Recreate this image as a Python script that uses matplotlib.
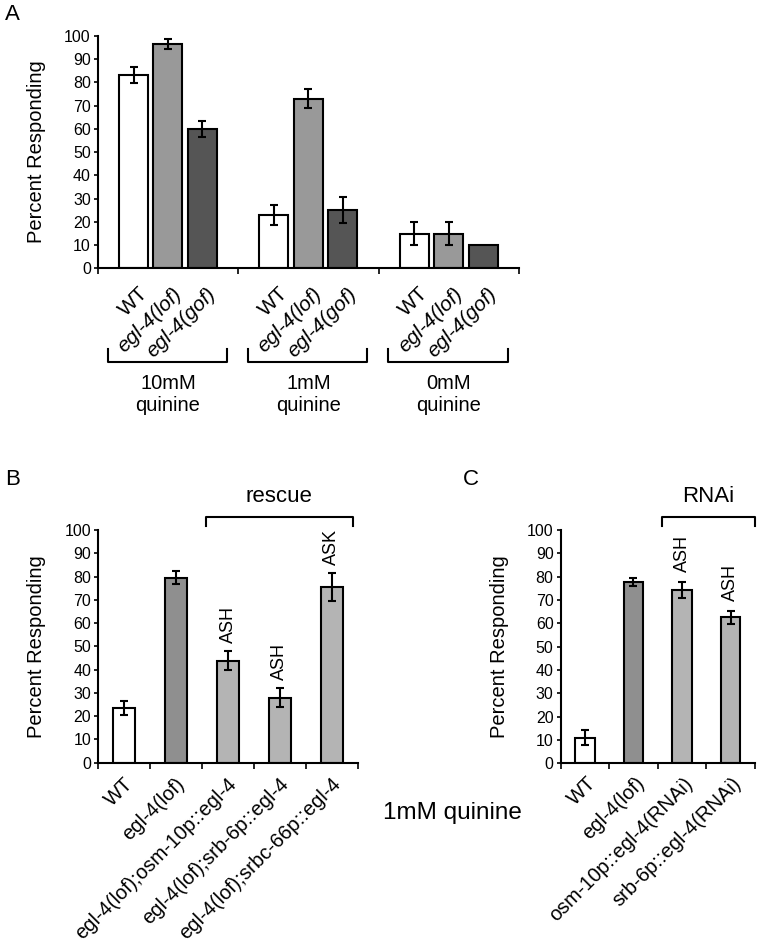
import matplotlib
matplotlib.use("Agg")
import matplotlib.pyplot as plt
import numpy as np
from matplotlib.transforms import blended_transform_factory

plt.rcParams['font.family'] = ['Liberation Sans', 'DejaVu Sans']

# ---- panel A data ----
groups_A = ['10mM\nquinine', '1mM\nquinine', '0mM\nquinine']
strains_A = ['WT', 'egl-4(lof)', 'egl-4(gof)']
vals_A = [[83, 96.5, 60], [23, 73, 25], [15, 15, 10]]
errs_A = [[3.5, 2, 3.5], [4.2, 4.2, 5.5], [5, 5, 0]]
colors_A = ['white', '#999999', '#555555']

# ---- panel B data ----
labels_B = ['WT', 'egl-4(lof)', 'egl-4(lof);osm-10p::egl-4',
            'egl-4(lof);srb-6p::egl-4', 'egl-4(lof);srbc-66p::egl-4']
vals_B = [23.5, 79.5, 43.8, 28, 75.7]
errs_B = [3, 2.7, 4, 4, 6]
colors_B = ['white', '#8f8f8f', '#b4b4b4', '#b4b4b4', '#b4b4b4']
notes_B = ['', '', 'ASH', 'ASH', 'ASK']

# ---- panel C data ----
labels_C = ['WT', 'egl-4(lof)', 'osm-10p::egl-4(RNAi)', 'srb-6p::egl-4(RNAi)']
vals_C = [11, 77.7, 74.2, 62.5]
errs_C = [3.2, 1.8, 3.3, 2.8]
colors_C = ['white', '#8f8f8f', '#b4b4b4', '#b4b4b4']
notes_C = ['', '', 'ASH', 'ASH']

W, H = 760, 946
fig = plt.figure(figsize=(W / 100, H / 100), dpi=100)


def px_axes(left, top, right, bottom):
    return fig.add_axes([left / W, 1 - bottom / H, (right - left) / W, (bottom - top) / H])


def style(ax, n, ylab_x):
    ax.set_ylim(0, 100)
    ax.set_xlim(0, n)
    ax.set_yticks(range(0, 101, 10))
    ax.set_xticks(range(0, n + 1))
    ax.set_xticklabels([])
    for s in ['top', 'right']:
        ax.spines[s].set_visible(False)
    for s in ['left', 'bottom']:
        ax.spines[s].set_linewidth(1.5)
    ax.tick_params(axis='y', direction='out', length=3, width=1.2, pad=2, labelsize=11.5)
    ax.tick_params(axis='x', direction='out', length=4, width=1.2)
    # y label placed by hand, centred on the axis height
    tr = blended_transform_factory(fig.transFigure, ax.transAxes)
    ax.text(ylab_x / W, 0.5, 'Percent Responding', transform=tr, rotation=90,
            ha='center', va='center', fontsize=14.5)


def bars(ax, x, v, e, c, w):
    ax.bar(x, v, width=w, color=c, edgecolor='black', linewidth=1.5, zorder=2)
    ee = np.array(e, dtype=float)
    m = ee > 0
    ax.errorbar(np.array(x)[m], np.array(v)[m], yerr=ee[m], fmt='none', ecolor='black',
                elinewidth=1.5, capsize=3, capthick=1.5, zorder=3)


def xlabels(ax, x, labels, dx, dy, fs=15, italic=False):
    tr = blended_transform_factory(ax.transData, ax.transAxes)
    for xi, lab in zip(x, labels):
        style_ = 'italic' if (italic and lab != 'WT') else 'normal'
        ax.annotate(lab, xy=(xi, 0), xycoords=tr, xytext=(dx, dy), textcoords='offset pixels',
                    rotation=45, rotation_mode='anchor', ha='right', va='center',
                    fontsize=fs, fontstyle=style_, annotation_clip=False)


def bracket(ax, x0, x1, yh, yt, text=None, ty=None, fs=16):
    tr = blended_transform_factory(ax.transData, ax.transAxes)
    ax.plot([x0, x0, x1, x1], [yt, yh, yh, yt], color='black', lw=1.5,
            transform=tr, clip_on=False)
    if text:
        ax.text((x0 + x1) / 2, ty, text, transform=tr, ha='center', va='center', fontsize=fs)


# ---- A ----
axA = px_axes(97.7, 35.7, 519, 268.5)
style(axA, 3, 36.7)
offs = [-0.245, 0, 0.245]
for gi in range(3):
    xs = [gi + 0.5 + o for o in offs]
    bars(axA, xs, vals_A[gi], errs_A[gi], colors_A, 0.207)
    xlabels(axA, xs, strains_A, 11, -22, italic=True)
    tr = blended_transform_factory(axA.transData, axA.transAxes)
    axA.plot([gi + 0.07, gi + 0.07, gi + 0.92, gi + 0.92], [-0.347, -0.40, -0.40, -0.347],
             color='black', lw=1.5, transform=tr, clip_on=False)
    axA.text(gi + 0.5, -0.452, groups_A[gi], transform=tr, ha='center', va='top',
             fontsize=14.5, linespacing=1.2)

# ---- B ----
axB = px_axes(98.3, 530, 357.7, 762.7)
style(axB, 5, 36.7)
xB = np.arange(5) + 0.5
bars(axB, xB, vals_B, errs_B, colors_B, 0.42)
xlabels(axB, xB, labels_B, 6, -18, fs=14.5)
for xi, v, e, n in zip(xB, vals_B, errs_B, notes_B):
    if n:
        axB.annotate(n, xy=(xi, v + e), xytext=(0, 8), textcoords='offset pixels',
                     rotation=90, ha='center', va='bottom', fontsize=13)
bracket(axB, 2.07, 4.91, 1.057, 1.017, 'rescue', 1.143)

# ---- C ----
axC = px_axes(560.5, 530, 755, 763.3)
style(axC, 4, 499.3)
xC = np.arange(4) + 0.5
bars(axC, xC, vals_C, errs_C, colors_C, 0.4)
xlabels(axC, xC, labels_C, 8, -17, fs=14.5)
for xi, v, e, n in zip(xC, vals_C, errs_C, notes_C):
    if n:
        axC.annotate(n, xy=(xi, v + e), xytext=(0, 10), textcoords='offset pixels',
                     rotation=90, ha='center', va='bottom', fontsize=13)
bracket(axC, 2.09, 3.99, 1.057, 1.017, 'RNAi', 1.143)

fig.text(452.5 / W, 1 - 813 / H, '1mM quinine', ha='center', va='center', fontsize=17.5)
fig.text(12.5 / W, 1 - 15 / H, 'A', ha='center', va='center', fontsize=16)
fig.text(12.5 / W, 1 - 479.5 / H, 'B', ha='center', va='center', fontsize=16)
fig.text(470.5 / W, 1 - 479.5 / H, 'C', ha='center', va='center', fontsize=16)

fig.savefig('out.png', dpi=100)
